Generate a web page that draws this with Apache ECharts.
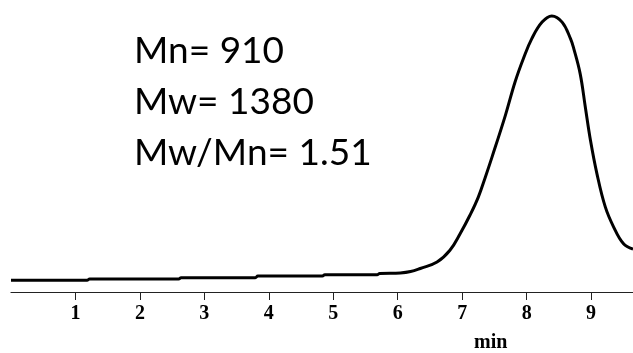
<!DOCTYPE html>
<html>
<head>
<meta charset="utf-8">
<script src="https://cdn.jsdelivr.net/npm/echarts@6/dist/echarts.min.js"></script>
<style>
  html, body { margin: 0; padding: 0; background: #fff; }
  #chart { width: 633px; height: 353px; }
</style>
</head>
<body>
<div id="chart"></div>
<script>
// GPC trace: retention time (min) vs detector response (relative)
const retentionTime = [
  0.00, 1.18, 1.22, 2.60, 2.64, 3.79, 3.83, 4.83, 4.87, 5.68, 5.72,
  6.04, 6.20, 6.35, 6.61, 6.81, 6.97, 7.12, 7.25, 7.36, 7.46, 7.67,
  7.82, 7.95, 8.08, 8.24, 8.39, 8.55, 8.68, 8.73, 8.83, 8.91, 8.99,
  9.09, 9.22, 9.35, 9.50, 9.65
];
const response = [
  4.2, 4.2, 4.6, 4.6, 5.1, 5.1, 5.7, 5.7, 6.2, 6.2, 6.6,
  6.8, 7.3, 8.4, 10.7, 14.9, 20.9, 27.4, 33.9, 41.1, 48.0, 63.1,
  75.0, 83.4, 90.5, 96.4, 98.6, 96.4, 90.5, 87.0, 78.0, 66.1, 54.2,
  42.3, 30.4, 23.2, 17.3, 15.3
];
const xTicks = [1, 2, 3, 4, 5, 6, 7, 8, 9];
const stats = ['Mn= 910', 'Mw= 1380', 'Mw/Mn= 1.51'];

const points = retentionTime.map((t, i) => [t, response[i]]);

const serifBold = '"Liberation Serif", "Times New Roman", serif';

const chart = echarts.init(document.getElementById('chart'), null, { renderer: 'canvas' });

chart.setOption({
  animation: false,
  backgroundColor: '#ffffff',
  grid: { left: 11, right: 0, top: 12, bottom: 61, containLabel: false },
  xAxis: {
    type: 'value',
    min: 0,
    max: 9.65,
    interval: 1,
    axisLine: { show: true, lineStyle: { color: '#222', width: 1.2 } },
    axisTick: {
      show: true,
      length: 8,
      lineStyle: { color: '#222', width: 1 },
      customValues: xTicks
    },
    axisLabel: {
      customValues: xTicks,
      margin: 12,
      color: '#000',
      fontFamily: serifBold,
      fontWeight: 'bold',
      fontSize: 20
    },
    splitLine: { show: false }
  },
  yAxis: {
    type: 'value',
    min: 0,
    max: 100,
    show: false,
    splitLine: { show: false }
  },
  series: [{
    type: 'line',
    data: points,
    showSymbol: false,
    smooth: 0.4,
    lineStyle: { color: '#000', width: 3 },
    clip: false
  }],
  graphic: [
    {
      type: 'text',
      left: 474,
      top: 333,
      style: {
        text: 'min',
        fill: '#000',
        font: 'bold 20px ' + serifBold
      }
    },
    ...stats.map((s, i) => ({
      type: 'text',
      left: 134,
      top: 33 + i * 51,
      style: {
        text: s,
        fill: '#000',
        font: '37px Lato, "Open Sans", sans-serif'
      }
    }))
  ]
});
</script>
</body>
</html>
